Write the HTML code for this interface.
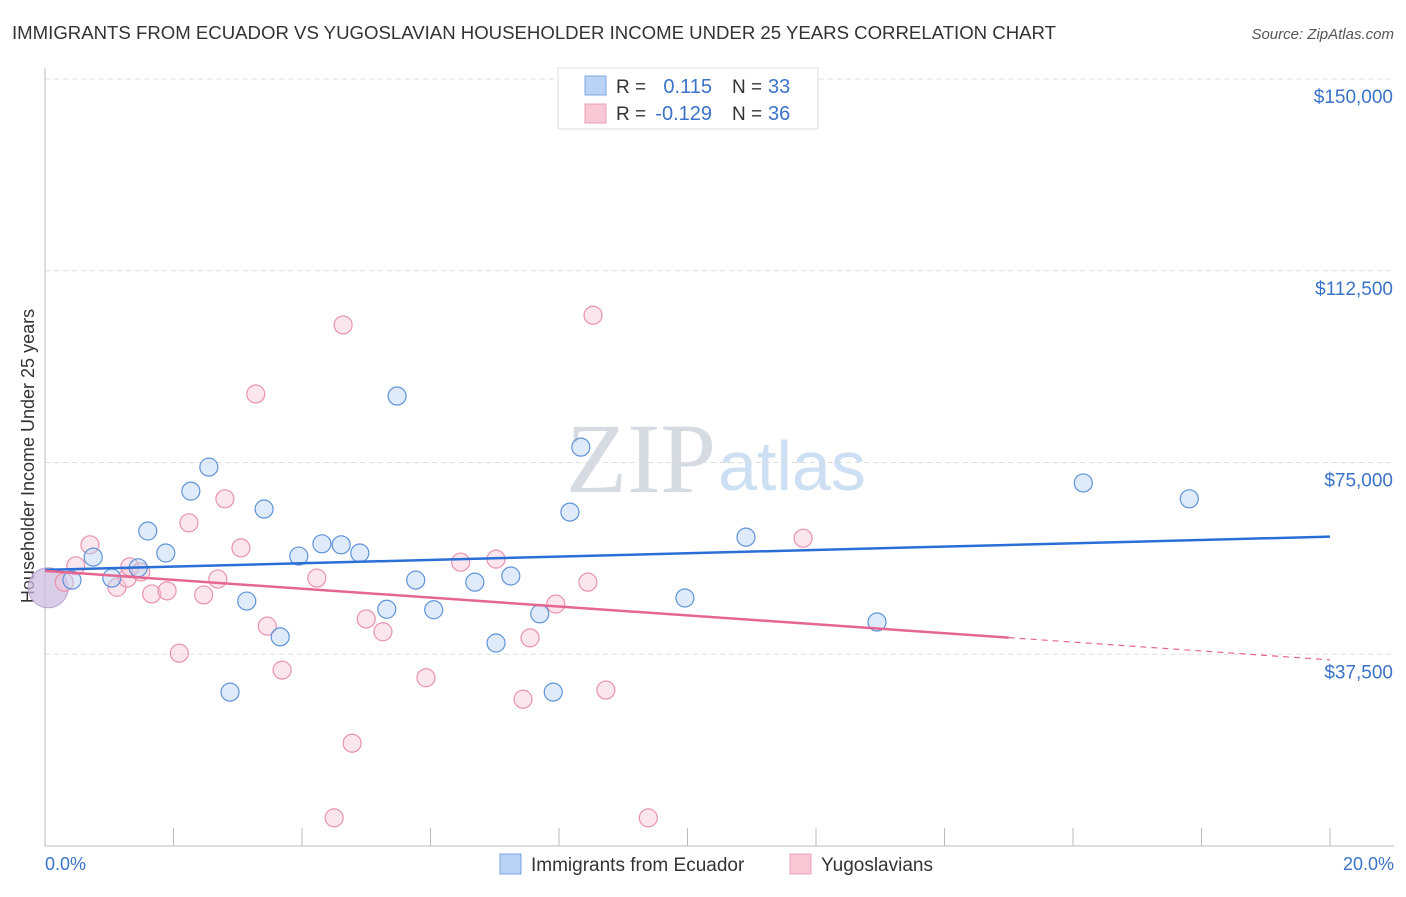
<!DOCTYPE html>
<html><head><meta charset="utf-8"><style>
body{margin:0;background:#fff;font-family:"Liberation Sans",sans-serif;}
</style></head><body>
<svg width="1406" height="892" xmlns="http://www.w3.org/2000/svg" id="chart" style="font-family:'Liberation Sans',sans-serif">
<text x="12" y="39" font-size="18" fill="#333" textLength="1044" lengthAdjust="spacingAndGlyphs">IMMIGRANTS FROM ECUADOR VS YUGOSLAVIAN HOUSEHOLDER INCOME UNDER 25 YEARS CORRELATION CHART</text>
<text x="1394" y="39" font-size="15" fill="#555" font-style="italic" text-anchor="end">Source: ZipAtlas.com</text>
<text x="716" y="492" font-size="100" fill="#d6dbe2" font-family="Liberation Serif" text-anchor="end">ZIP</text>
<text x="718" y="490" font-size="70" fill="#cddff3">atlas</text>
<g id="grid"></g>
<line x1="45" y1="68" x2="45" y2="846" stroke="#bbb"/>
<line x1="45" y1="846" x2="1394" y2="846" stroke="#bbb"/>
<g id="xticks"></g>
<text transform="translate(34,456) rotate(-90)" font-size="18" fill="#333" text-anchor="middle">Householder Income Under 25 years</text>
<text x="45" y="870" font-size="18" fill="#3b73c8">0.0%</text>
<text x="1394" y="870" font-size="18" fill="#3b73c8" text-anchor="end">20.0%</text>
<g id="marks"></g>
<g>
<rect x="558" y="68" width="260" height="61" fill="#fff" stroke="#ddd"/>
<rect x="585" y="76" width="21" height="19" fill="#b8d3f3" stroke="#7aa6e0"/>
<rect x="585" y="104" width="21" height="19" fill="#f8c8d6" stroke="#eaa0b8"/>
<text x="616" y="93" font-size="19" fill="#333">R =</text>
<text x="712" y="93" font-size="20" fill="#3b73c8" text-anchor="end">0.115</text>
<text x="732" y="93" font-size="19" fill="#333">N =</text>
<text x="768" y="93" font-size="20" fill="#3b73c8">33</text>
<text x="616" y="120" font-size="19" fill="#333">R =</text>
<text x="712" y="120" font-size="20" fill="#3b73c8" text-anchor="end">-0.129</text>
<text x="732" y="120" font-size="19" fill="#333">N =</text>
<text x="768" y="120" font-size="20" fill="#3b73c8">36</text>
</g>
<g>
<rect x="500" y="854" width="21" height="20" fill="#b8d3f3" stroke="#7aa6e0"/>
<text x="531" y="871" font-size="19" fill="#333">Immigrants from Ecuador</text>
<rect x="790" y="854" width="21" height="20" fill="#f8c8d6" stroke="#eaa0b8"/>
<text x="821" y="871" font-size="19" fill="#333">Yugoslavians</text>
</g>
</svg>
<script>
const yTicks=[150000,112500,75000,37500];
const yTickLabels=["$150,000","$112,500","$75,000","$37,500"];
const blueX=[0.42,0.75,1.04,1.45,1.60,1.88,2.27,2.55,2.88,3.14,3.41,3.66,3.95,4.31,4.61,4.90,5.32,5.48,5.77,6.05,6.69,7.02,7.25,7.70,7.91,8.17,8.34,9.96,10.91,12.95,16.16,17.81];
const blueY=[52.0,56.5,52.4,54.4,61.6,57.3,69.4,74.1,30.1,47.9,65.9,40.9,56.7,59.1,58.9,57.3,46.3,88.0,52.0,46.2,51.6,39.7,52.8,45.4,30.1,65.3,78.0,48.5,60.4,43.8,71.0,67.9];
const pinkX=[0.30,0.48,0.70,1.12,1.28,1.32,1.49,1.66,1.90,2.09,2.24,2.47,2.69,2.80,3.05,3.28,3.46,3.69,4.23,4.50,4.64,4.78,5.00,5.26,5.93,6.47,7.02,7.44,7.55,7.95,8.45,8.53,8.73,9.39,11.80];
const pinkY=[51.6,54.8,58.9,50.6,52.4,54.6,53.6,49.3,49.9,37.7,63.2,49.1,52.2,67.9,58.3,88.4,43.0,34.4,52.4,5.5,101.9,20.1,44.4,41.9,32.9,55.5,56.1,28.7,40.7,47.3,51.6,103.8,30.5,5.5,60.2];
const bigBlue=[0.05,50.5];
const bigPink=[0.08,50.0];
const blueTrend=[54.0,60.5];
const pinkTrend=[53.8,36.4];
const pinkSolidEnd=15;
const NS="http://www.w3.org/2000/svg";
const X=v=>45+v/20*1285;
const Y=k=>79+(150000-k*1000)*191.75/37500;
const YV=v=>79+(150000-v)*191.75/37500;
function mk(tag,attrs,parent){const e=document.createElementNS(NS,tag);for(const k in attrs)e.setAttribute(k,attrs[k]);parent.appendChild(e);return e;}
const grid=document.getElementById('grid');
yTicks.forEach((t,i)=>{
 const l=mk('line',{x1:45,x2:1394,y1:YV(t),y2:YV(t),stroke:'#ddd','stroke-dasharray':'5,4'},grid);
 
 
 const tx=mk('text',{x:1393,y:YV(t)+24,'font-size':19,fill:'#3b73c8','text-anchor':'end'},grid);
 tx.textContent=yTickLabels[i];
 
 
});
const xt=document.getElementById('xticks');
for(let i=0;i<=10;i++){
 const l=mk('line',{x1:X(i*2),x2:X(i*2),y1:828,y2:846,stroke:'#bbb'},xt);
 
 
}
const m=document.getElementById('marks');
function dot(x,y,r,fill,stroke,name){
 const c=mk('circle',{cx:X(x),cy:Y(y),r:r,fill:fill,'fill-opacity':0.45,stroke:stroke,'stroke-width':1.2},m);
 
 
}
const big=mk('circle',{cx:X(bigBlue[0]),cy:Y(bigBlue[1]),r:20,fill:'#c9b8de','fill-opacity':0.7,stroke:'#b9a4d4'},m);


pinkX.forEach((x,i)=>dot(x,pinkY[i],9,'#f8c8d6','#e892ae','point-yugoslavians'));
blueX.forEach((x,i)=>dot(x,blueY[i],9,'#b8d3f3','#5f93d8','point-ecuador'));
const bl=mk('line',{x1:X(0),y1:Y(blueTrend[0]),x2:X(20),y2:Y(blueTrend[1]),stroke:'#2a6fd6','stroke-width':2.5},m);


const pAt=x=>pinkTrend[0]+(pinkTrend[1]-pinkTrend[0])*x/20;
const pl=mk('line',{x1:X(0),y1:Y(pinkTrend[0]),x2:X(pinkSolidEnd),y2:Y(pAt(pinkSolidEnd)),stroke:'#e56690','stroke-width':2.5},m);


const pd=mk('line',{x1:X(pinkSolidEnd),y1:Y(pAt(pinkSolidEnd)),x2:X(20),y2:Y(pinkTrend[1]),stroke:'#e56690','stroke-width':1.2,'stroke-dasharray':'6,5'},m);


</script>
</body></html>
